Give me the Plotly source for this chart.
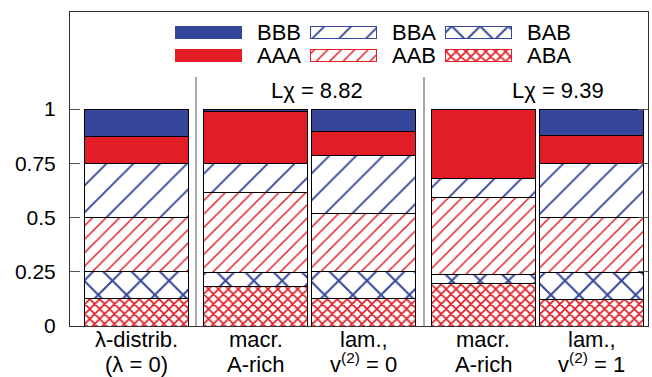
import plotly.graph_objects as go

# ---------------- data ----------------
categories = [
    "λ-distrib.<br>(λ = 0)",
    "macr.<br>A-rich",
    "lam.,<br>v<sup>(2)</sup> = 0",
    "macr.<br>A-rich",
    "lam.,<br>v<sup>(2)</sup> = 1",
]
bars_per_group = [1, 2, 2]
ABA = [0.125, 0.184, 0.127, 0.194, 0.123]
BAB = [0.125, 0.063, 0.126, 0.044, 0.124]
AAB = [0.250, 0.369, 0.266, 0.355, 0.252]
BBA = [0.250, 0.134, 0.266, 0.087, 0.251]
AAA = [0.125, 0.240, 0.110, 0.320, 0.127]
BBB = [0.125, 0.010, 0.105, 0.000, 0.123]
L_chi = [8.82, 9.39]
y_ticks = [0, 0.25, 0.5, 0.75, 1]
y_tick_labels = ["0", "0.25", "0.5", "0.75", "1"]

# ---------------- styles ----------------
BLUE = "#36479B"
RED = "#E31D25"
FONT = "Liberation Sans, Arial, sans-serif"
FS = 22

series = [("ABA", ABA), ("BAB", BAB), ("AAB", AAB), ("BBA", BBA), ("AAA", AAA), ("BBB", BBB)]
style = {
    "BBB": dict(col=BLUE, shape=""),
    "AAA": dict(col=RED, shape=""),
    "BBA": dict(col=BLUE, shape="/", size=19, solidity=0.1),
    "AAB": dict(col=RED, shape="/", size=9.5, solidity=0.16),
    "BAB": dict(col=BLUE, shape="x", size=20, solidity=0.19),
    "ABA": dict(col=RED, shape="x", size=7, solidity=0.42),
}


def marker_for(name, outline):
    s = style[name]
    if s["shape"] == "":
        return dict(color=s["col"], line=dict(color=outline, width=1))
    return dict(
        color="white",
        line=dict(color=outline, width=1),
        pattern=dict(shape=s["shape"], fgcolor=s["col"], bgcolor="white",
                     size=s["size"], solidity=s["solidity"], fillmode="replace"),
    )


# bar positions: width 1, small gap within a group, larger gap between groups
positions = []
x = 0.0
for n in bars_per_group:
    for k in range(n):
        positions.append(x)
        x += 1 + (0.04 if k < n - 1 else 0.15)

fig = go.Figure()
for name, vals in series:
    fig.add_trace(go.Bar(x=positions, y=vals, width=1.0, name=name,
                         marker=marker_for(name, "black"), showlegend=False,
                         hoverinfo="skip"))

annotations = []
# category labels, two lines each, placed under the axis
for xp, cat in zip(positions, categories):
    line1, line2 = cat.split("<br>")
    for txt, shift in [(line1, -28), (line2, -53)]:
        annotations.append(dict(x=xp, y=0, xref="x", yref="y", text=txt, showarrow=False,
                                xanchor="center", yanchor="bottom", yshift=shift,
                                font=dict(size=FS, color="black", family=FONT)))

# ---------------- custom legend (pixel-like overlay axes) ----------------
legend_rows = [["BBB", "BBA", "BAB"], ["AAA", "AAB", "ABA"]]
col_left = [105, 240, 375]
row_top = [14, 37.5]
sw_w, sw_h = 66, 12
for r, row in enumerate(legend_rows):
    for c, name in enumerate(row):
        fig.add_trace(go.Bar(x=[col_left[c] + sw_w / 2], y=[sw_h], base=[row_top[r]],
                             width=[sw_w], xaxis="x2", yaxis="y2", showlegend=False,
                             marker=marker_for(name, style[name]["col"]), hoverinfo="skip"))
        annotations.append(dict(x=col_left[c] + 80, y=row_top[r] + sw_h / 2, xref="x2", yref="y2",
                                text=name, showarrow=False, xanchor="left", yanchor="middle",
                                font=dict(size=FS, color="black", family=FONT)))

for xl, val in zip([246.5, 487.5], L_chi):
    annotations.append(dict(x=xl, y=78, xref="x2", yref="y2", text=f"Lχ = {val:.2f}",
                            showarrow=False, xanchor="center", yanchor="middle",
                            font=dict(size=FS, color="black", family=FONT)))

shapes = []
for xs in [126, 354]:
    shapes.append(dict(type="line", xref="x2", yref="y2", x0=xs, x1=xs, y0=65, y1=314,
                       line=dict(color="#8c8c8c", width=1.5)))

fig.update_layout(
    width=652, height=377,
    margin=dict(l=70, r=4, t=12, b=51),
    barmode="stack",
    plot_bgcolor="white", paper_bgcolor="white",
    font=dict(family=FONT, color="black"),
    annotations=annotations,
    shapes=shapes,
    xaxis=dict(range=[-0.635, 4.923], showticklabels=False,
               ticks="", showline=True, mirror=True, linecolor="#333", linewidth=1,
               showgrid=False, zeroline=False),
    yaxis=dict(range=[0, 1.447], tickvals=y_ticks, ticktext=y_tick_labels,
               ticks="inside", ticklen=10, tickcolor="#555", showline=True, mirror="ticks",
               linecolor="#333", linewidth=1, showgrid=False, zeroline=False,
               tickfont=dict(size=21, family=FONT), ticklabelstandoff=9),
    xaxis2=dict(overlaying="x", anchor="y2", range=[0, 578], visible=False, fixedrange=True),
    yaxis2=dict(overlaying="y", anchor="x2", range=[314, 0], visible=False, fixedrange=True),
)

fig.write_html("out.html")
